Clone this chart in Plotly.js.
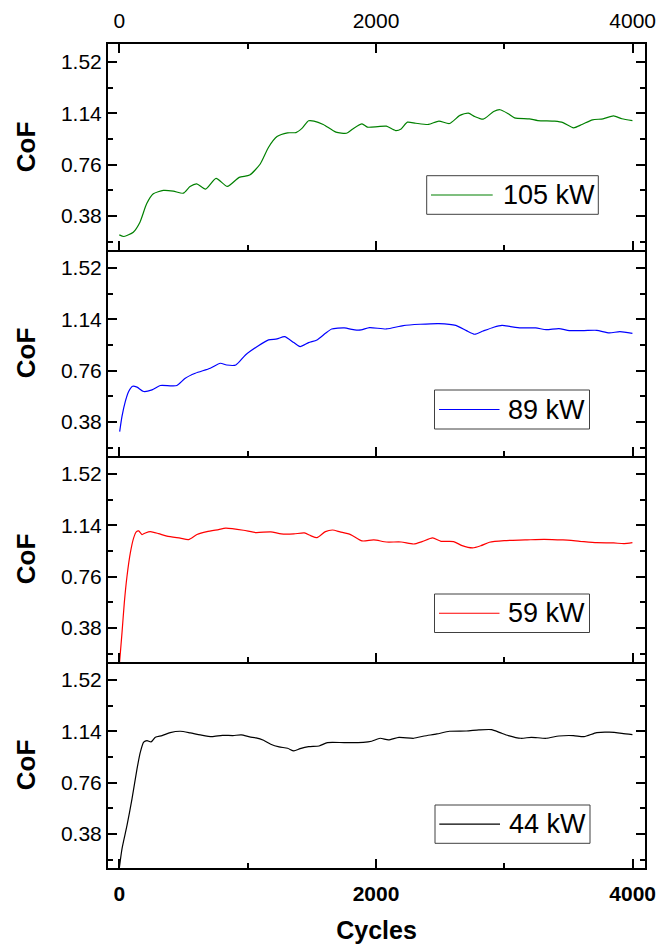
<!DOCTYPE html>
<html>
<head>
<meta charset="utf-8">
<script src="https://cdn.plot.ly/plotly-3.0.1.min.js"></script>
<style>html,body{margin:0;padding:0;background:#fff;}</style>
</head>
<body>
<div id="chart" style="width:659px;height:949px;"></div>
<script>
// ---- data ----
const cycles105 = [0,36,109,161,213,265,343,421,499,551,603,672,754,842,934,1016,1098,1163,1229,1311,1376,1425,1475,1517,1589,1688,1770,1819,1891,1933,2015,2081,2153,2196,2245,2310,2409,2490,2572,2654,2720,2769,2835,2917,2966,3031,3080,3195,3261,3392,3457,3539,3605,3687,3769,3851,3916,3998];
const cof105 = [0.239,0.227,0.259,0.333,0.469,0.543,0.568,0.563,0.548,0.597,0.617,0.578,0.658,0.598,0.665,0.682,0.764,0.888,0.967,0.995,0.997,1.03,1.084,1.082,1.057,1.0,0.992,1.024,1.061,1.037,1.041,1.044,1.012,1.024,1.074,1.066,1.057,1.082,1.064,1.124,1.141,1.116,1.096,1.153,1.166,1.136,1.106,1.099,1.086,1.081,1.071,1.032,1.057,1.091,1.099,1.121,1.099,1.086];

const cycles89 = [3,21,47,73,104,138,190,255,320,397,449,514,592,709,787,836,908,983,1081,1163,1229,1288,1360,1409,1475,1540,1606,1655,1753,1835,1884,1950,2081,2212,2343,2490,2622,2704,2769,2835,2917,2982,3048,3129,3244,3326,3425,3506,3621,3720,3818,3900,3998];
const cof89 = [0.308,0.42,0.531,0.605,0.644,0.637,0.605,0.617,0.649,0.647,0.649,0.703,0.74,0.777,0.814,0.801,0.801,0.875,0.942,0.987,0.994,1.011,0.967,0.937,0.967,0.987,1.036,1.068,1.076,1.061,1.061,1.078,1.068,1.093,1.103,1.108,1.095,1.056,1.029,1.053,1.081,1.095,1.086,1.076,1.076,1.063,1.071,1.056,1.056,1.058,1.039,1.048,1.036];

const cycles59 = [0,21,39,60,86,112,132,151,177,203,242,306,371,475,540,605,683,774,829,967,1065,1180,1262,1360,1442,1491,1540,1606,1661,1720,1802,1891,1983,2081,2196,2294,2359,2441,2507,2605,2671,2753,2818,2884,2999,3162,3310,3457,3588,3720,3851,3933,3998];
const cof59 = [0.10,0.343,0.565,0.762,0.935,1.046,1.091,1.098,1.071,1.083,1.093,1.078,1.059,1.044,1.034,1.071,1.093,1.108,1.118,1.103,1.086,1.091,1.076,1.076,1.083,1.063,1.048,1.093,1.105,1.091,1.071,1.024,1.031,1.016,1.016,1.001,1.019,1.046,1.021,1.019,0.989,0.972,0.989,1.014,1.026,1.031,1.036,1.031,1.021,1.011,1.009,1.004,1.011];

const cycles44 = [0,21,60,99,138,164,190,216,247,281,333,397,475,553,631,722,803,885,950,1016,1065,1124,1180,1245,1311,1360,1409,1475,1557,1622,1753,1901,1966,2032,2097,2179,2294,2376,2474,2572,2704,2802,2900,2966,3031,3129,3211,3326,3425,3539,3621,3720,3818,3916,3998];
const cof44 = [0.125,0.269,0.442,0.639,0.861,0.985,1.059,1.071,1.061,1.096,1.108,1.13,1.14,1.128,1.113,1.10,1.11,1.108,1.113,1.098,1.091,1.073,1.044,1.024,1.014,0.994,1.011,1.026,1.031,1.056,1.056,1.058,1.066,1.088,1.076,1.095,1.088,1.105,1.12,1.14,1.142,1.15,1.152,1.13,1.108,1.088,1.095,1.088,1.105,1.108,1.1,1.13,1.133,1.125,1.115];

const seriesNames = ['105 kW','89 kW','59 kW','44 kW'];
const seriesColors = ['#008000','#0000ff','#ff0000','#000000'];
const xTickVals = [0,2000,4000];
const xMinorVals = [1000,3000];
const yTickVals = [0.38,0.76,1.14,1.52];
const yMinorVals = [0.19,0.57,0.95,1.33];

// ---- build ----
const FONT = 'Liberation Sans, Arial, sans-serif';
const W = 659, H = 949;
const M = {l:108, r:14, t:44, b:81};
const PW = W - M.l - M.r, PH = H - M.t - M.b;
const xs = [cycles105, cycles89, cycles59, cycles44];
const ys = [cof105, cof89, cof59, cof44];
const traces = xs.map((x,i)=>({
  x:x, y:ys[i], type:'scatter', mode:'lines', name:seriesNames[i],
  line:{color:seriesColors[i], width:1.2, shape:'spline', smoothing:0.6},
  xaxis: i===0 ? 'x' : 'x'+(i+1),
  yaxis: i===0 ? 'y' : 'y'+(i+1),
  showlegend:false
}));

const xr = [-88, 4096];
const yr = [0.127, 1.653];
const domains = [[0.75,1],[0.5,0.75],[0.25,0.5],[0,0.25]];

function xaxis(i){
  const a = {
    range:xr, domain:[0,1], anchor: i===0?'y':'y'+(i+1),
    tickmode:'array', tickvals:xTickVals, ticktext:xTickVals.map(String),
    ticks:'inside', ticklen:9, tickwidth:2, tickcolor:'#000',
    minor:{tickmode:'array', tickvals:xMinorVals, ticks:'inside', ticklen:5, tickwidth:2, tickcolor:'#000'},
    showline:true, linewidth:2, linecolor:'#000', mirror:false,
    showgrid:false, zeroline:false, ticklabelstandoff:6,
    tickfont:{family:FONT, size:21, color:'#000'}
  };
  if(i===0){ a.side='top'; a.mirror='ticks'; }
  else if(i<3){ a.showticklabels=false; }
  else {
    a.tickfont = {family:FONT, size:21, color:'#000', weight:'bold'};
    a.title = {text:'Cycles', font:{family:FONT, size:25, color:'#000', weight:'bold'}, standoff:17};
  }
  return a;
}
function yaxis(i){
  return {
    range:yr, domain:domains[i], anchor: i===0?'x':'x'+(i+1),
    tickmode:'array', tickvals:yTickVals, ticktext:yTickVals.map(v=>v.toFixed(2)),
    ticks:'inside', ticklen:9, tickwidth:2, tickcolor:'#000',
    minor:{tickmode:'array', tickvals:yMinorVals, ticks:'inside', ticklen:5, tickwidth:2, tickcolor:'#000'},
    showline:true, linewidth:2, linecolor:'#000', mirror:'ticks',
    showgrid:false, zeroline:false,
    tickfont:{family:FONT, size:21, color:'#000'},
    title:{text:'CoF', font:{family:FONT, size:26, color:'#000', weight:'bold'}, standoff:18}
  };
}
// legend boxes (pixel positions of the reference, converted to paper coords)
const legendBoxes = [
  {x0:426.7, x1:598.3, y0:175.7, y1:214.3, lx0:431, lx1:492.7, tx:500.5},
  {x0:434.5, x1:589.5, y0:390, y1:429, lx0:439, lx1:499.5, tx:506},
  {x0:434.5, x1:589.5, y0:594, y1:632.5, lx0:439, lx1:499.5, tx:506},
  {x0:435, x1:590, y0:805, y1:843.3, lx0:439.3, lx1:500, tx:507}
];
const px = v => (v - M.l)/PW;
const py = v => (H - M.b - v)/PH;
const shapes = [], annotations = [];
legendBoxes.forEach((b,i)=>{
  shapes.push({type:'rect', xref:'paper', yref:'paper', x0:px(b.x0), x1:px(b.x1), y0:py(b.y1), y1:py(b.y0),
    line:{color:'#404040', width:1}, fillcolor:'#fff', layer:'above'});
  const yc = py((b.y0+b.y1)/2);
  shapes.push({type:'line', xref:'paper', yref:'paper', x0:px(b.lx0), x1:px(b.lx1), y0:yc, y1:yc,
    line:{color:seriesColors[i], width:1.2}, layer:'above'});
  annotations.push({xref:'paper', yref:'paper', x:px(b.tx), y:yc, xanchor:'left', yanchor:'middle',
    text:seriesNames[i], showarrow:false, font:{family:FONT, size:27, color:'#000'}});
});

const layout = {
  width:W, height:H,
  margin:M,
  paper_bgcolor:'#fff', plot_bgcolor:'#fff',
  font:{family:FONT, color:'#000'},
  showlegend:false,
  shapes:shapes, annotations:annotations
};
for(let i=0;i<4;i++){
  const s = i===0?'':String(i+1);
  layout['xaxis'+s] = xaxis(i);
  layout['yaxis'+s] = yaxis(i);
}
Plotly.newPlot('chart', traces, layout, {displayModeBar:false, staticPlot:true});
</script>
</body>
</html>
